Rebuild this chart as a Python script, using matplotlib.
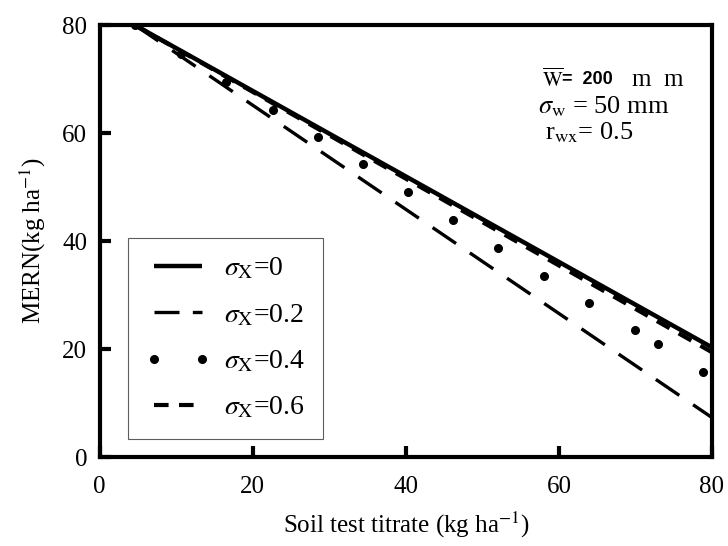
import matplotlib
matplotlib.use('Agg')
import matplotlib.pyplot as plt

plt.rcParams['font.family'] = ['Liberation Serif', 'DejaVu Serif']
plt.rcParams['mathtext.fontset'] = 'stix'

# 数据
line_x = [4.6, 80]
mern_sx0 = [80, 20.3]      # sigma_x = 0
mern_sx02 = [80, 7.3]      # sigma_x = 0.2
mern_sx06 = [80, 19.4]     # sigma_x = 0.6

dot_x = [4.6, 10.6, 16.5, 22.6, 28.5, 34.4, 40.3, 46.1, 52.0, 58.0, 63.9, 69.9, 72.9, 78.8]
mern_sx04 = [80, 74.6, 69.4, 64.3, 59.3, 54.3, 49.1, 43.9, 38.7, 33.5, 28.5, 23.5, 20.9, 15.7]

x_ticks = [0, 20, 40, 60, 80]
y_ticks = [0, 20, 40, 60, 80]

fig = plt.figure(figsize=(7.28, 5.46), dpi=100)
ax = fig.add_axes([0.137, 0.163, 0.841, 0.791])

ax.plot(line_x, mern_sx0, color='black', lw=3.2, solid_capstyle='butt', label=r'$\sigma_{\mathrm{X}}$=0')
ax.plot(line_x, mern_sx02, color='black', lw=2.4, dashes=(8.5, 5), label=r'$\sigma_{\mathrm{X}}$=0.2')
ax.plot(dot_x, mern_sx04, 'o', color='black', ms=5.5, label=r'$\sigma_{\mathrm{X}}$=0.4')
ax.plot(line_x, mern_sx06, color='black', lw=3.0, dashes=(3.5, 2.5), label=r'$\sigma_{\mathrm{X}}$=0.6')

ax.set_xlim(0, 80)
ax.set_ylim(0, 80)
ax.set_xticks(x_ticks)
ax.set_yticks(y_ticks)
ax.tick_params(direction='in', length=8, width=3, labelsize=18)
ax.tick_params(axis='x', pad=14)
ax.tick_params(axis='y', pad=9)
for s in ax.spines.values():
    s.set_linewidth(3)

ax.set_xlabel(r'Soil test titrate (kg ha$^{-1}$)', fontsize=18, labelpad=8)
ax.set_ylabel(r'MERN(kg ha$^{-1}$)', fontsize=18, labelpad=10)

leg = ax.legend(loc='lower left', bbox_to_anchor=(0.046, 0.042), borderaxespad=0,
                fontsize=20, numpoints=2, handlelength=2.3, handletextpad=0.5,
                labelspacing=0.75, frameon=True, fancybox=False, borderpad=0.65)
leg.get_frame().set_edgecolor('#333333')
leg.get_frame().set_linewidth(0.8)
# 图例中长虚线显示两段
leg.get_lines()[1].set_dashes([7.5, 4])

# 右上角参数说明
ax.text(0.722, 0.873, r'$\overline{\mathrm{W}}$', transform=ax.transAxes, fontsize=15,
        ha='left', va='center')
ax.text(0.755, 0.873, '=  200', transform=ax.transAxes, fontsize=13,
        family='Liberation Sans', fontweight='bold', ha='left', va='center')
ax.text(0.87, 0.873, 'm  m', transform=ax.transAxes, fontsize=18, ha='left', va='center')
ax.text(0.716, 0.81, r'$\sigma_{\mathrm{w}}$ = 50 mm', transform=ax.transAxes, fontsize=19,
        ha='left', va='center')
ax.text(0.727, 0.75, r'r$_{\mathrm{wx}}$= 0.5', transform=ax.transAxes, fontsize=19,
        ha='left', va='center')

fig.savefig('out.png', dpi=100)
